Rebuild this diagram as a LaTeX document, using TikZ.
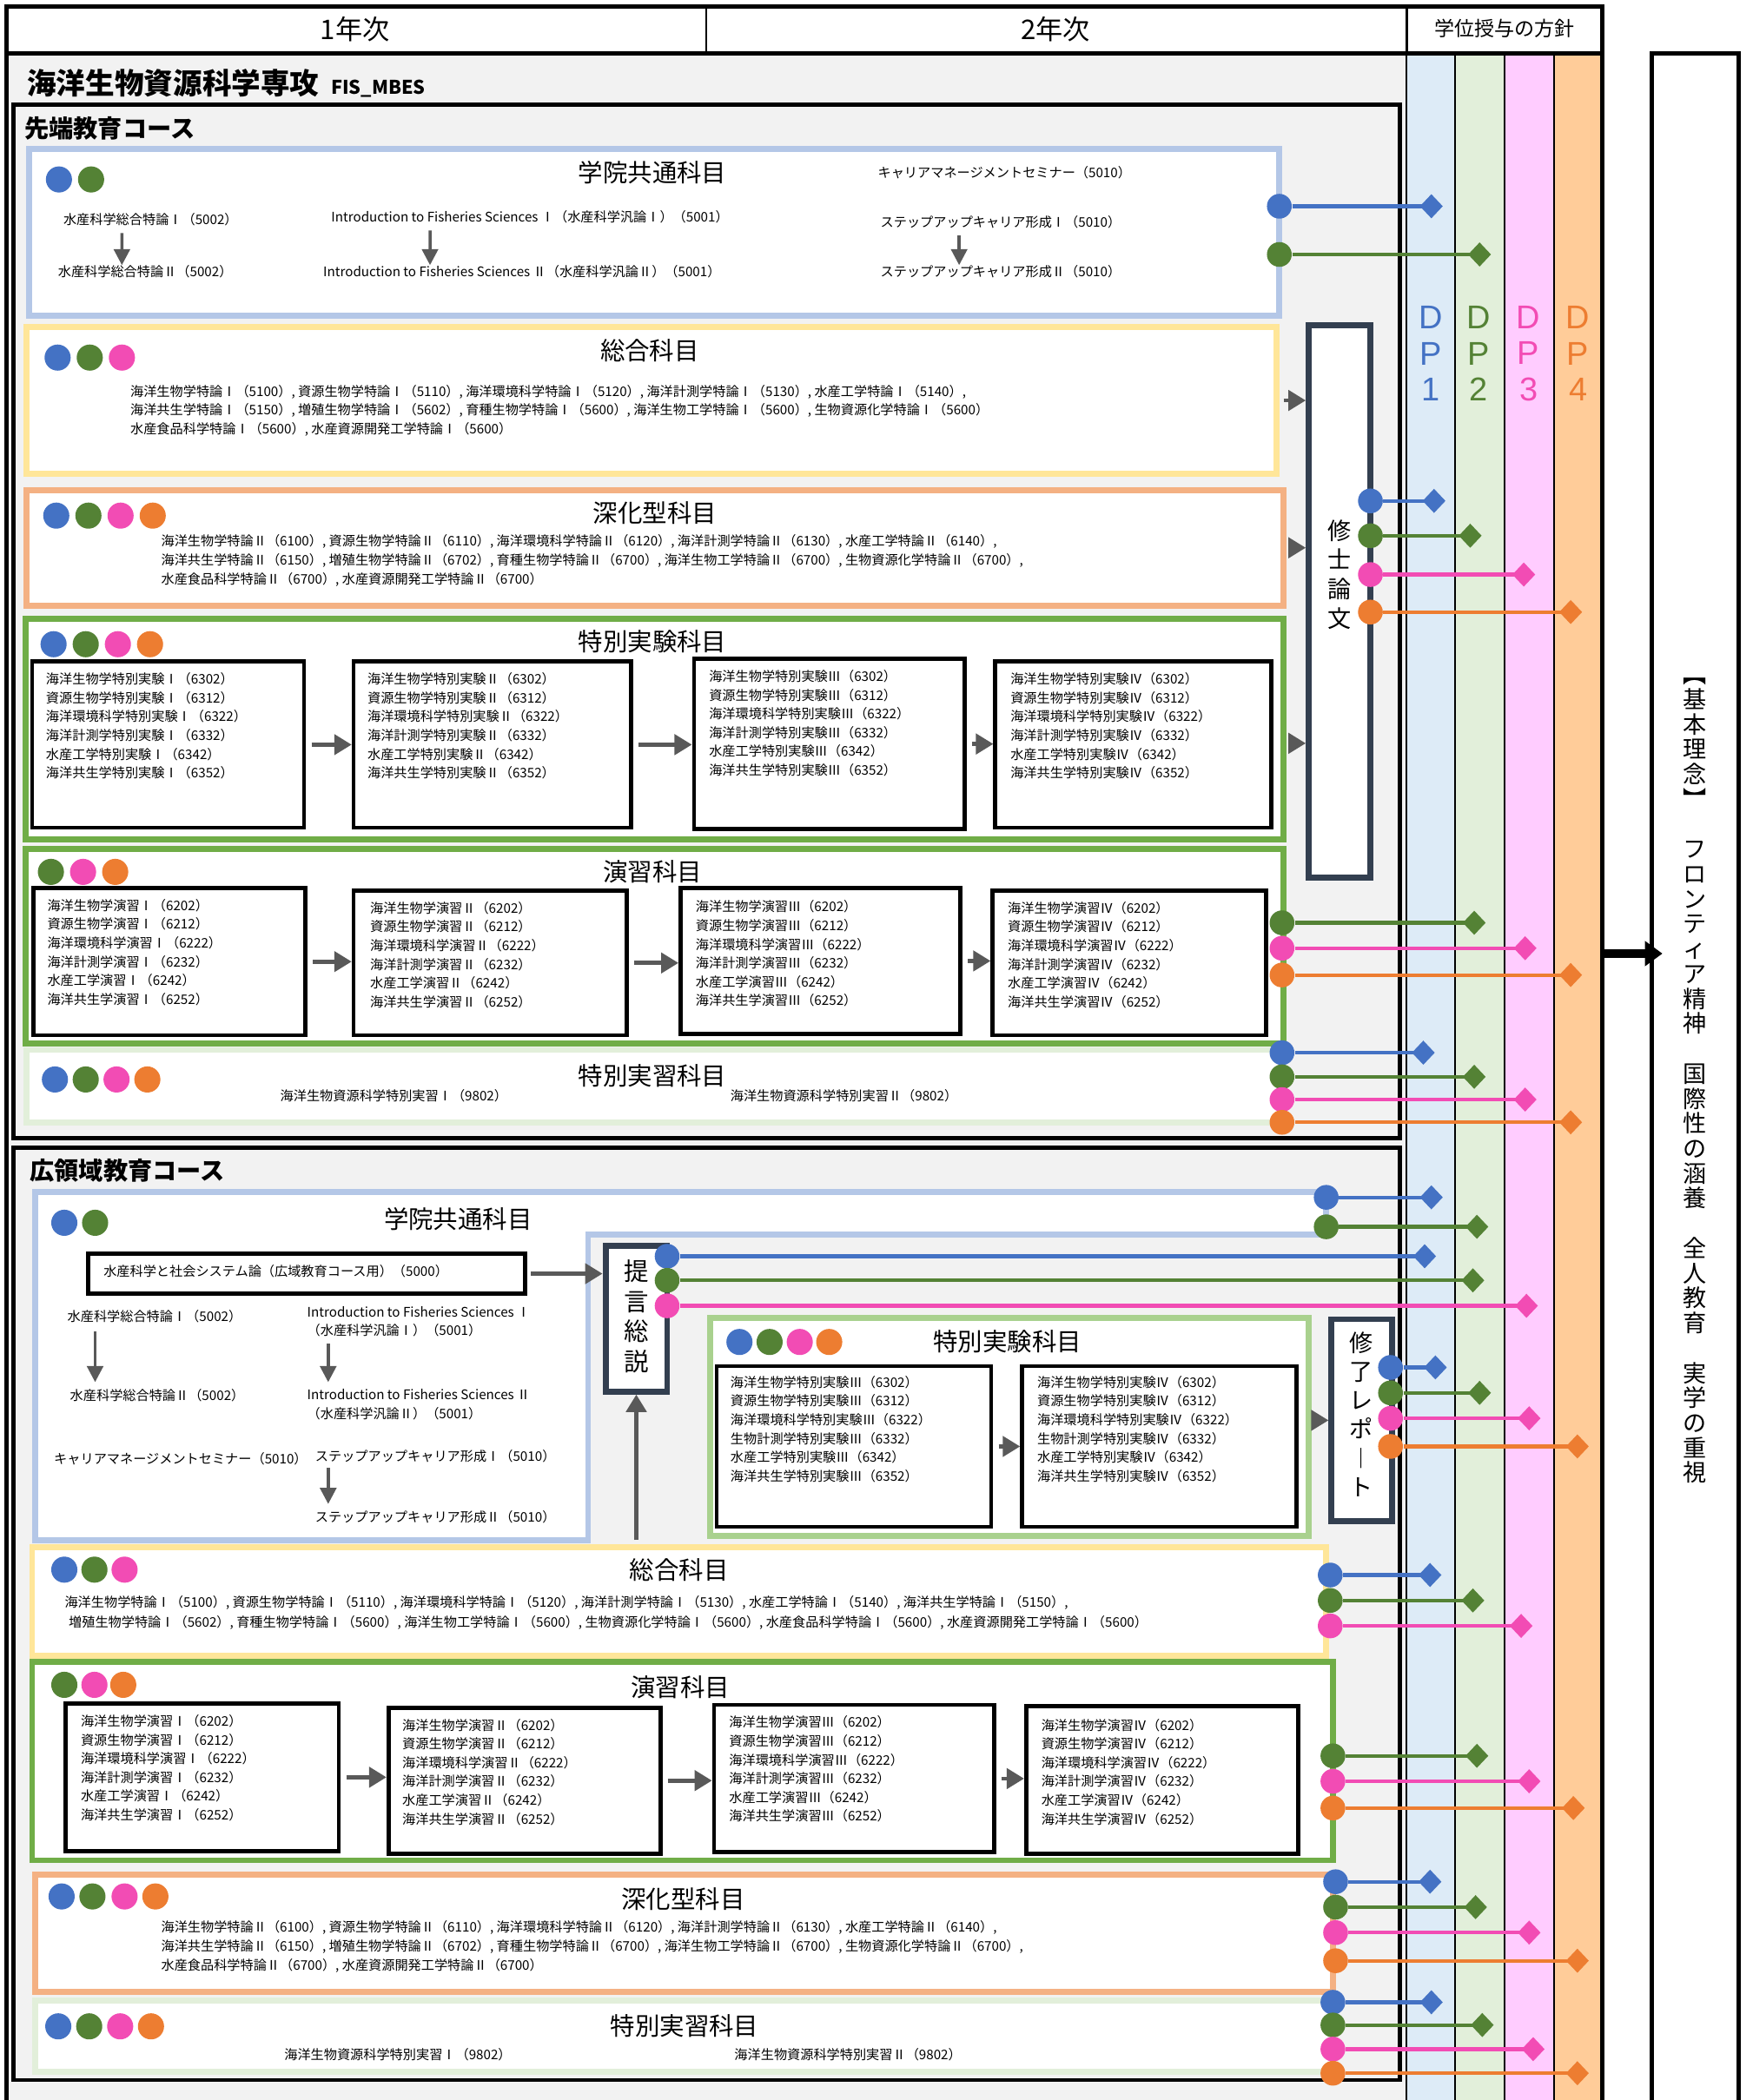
\documentclass[tikz,border=0pt]{standalone}
\usepackage{fontspec}
\setmainfont{Noto Sans CJK JP}
\newfontfamily\dpfont{Liberation Sans}
\usetikzlibrary{arrows.meta,fit,positioning}

\definecolor{bggray}{HTML}{F2F2F2}
\definecolor{kyotsu}{HTML}{B4C7E7}
\definecolor{sogo}{HTML}{FFE699}
\definecolor{shinka}{HTML}{F4B183}
\definecolor{jikken}{HTML}{70AD47}
\definecolor{jikkenlt}{HTML}{A9D18E}
\definecolor{jisshu}{HTML}{E2EFDA}
\definecolor{slate}{HTML}{333F50}
\definecolor{arrowgray}{HTML}{595959}
\definecolor{dpblue}{HTML}{4472C4}
\definecolor{dpgreen}{HTML}{548235}
\definecolor{dppink}{HTML}{F24CB4}
\definecolor{dporange}{HTML}{ED7D31}
\definecolor{dpcol1}{HTML}{DDEBF7}
\definecolor{dpcol2}{HTML}{E2EFDA}
\definecolor{dpcol3}{HTML}{FFCCFF}
\definecolor{dpcol4}{HTML}{FFCC99}

% course lists
\newcommand{\sogolist}{海洋生物学特論Ⅰ（5100）, 資源生物学特論Ⅰ（5110）, 海洋環境科学特論Ⅰ（5120）, 海洋計測学特論Ⅰ（5130）, 水産工学特論Ⅰ（5140）,\\海洋共生学特論Ⅰ（5150）, 増殖生物学特論Ⅰ（5602）, 育種生物学特論Ⅰ（5600）, 海洋生物工学特論Ⅰ（5600）, 生物資源化学特論Ⅰ（5600）\\水産食品科学特論Ⅰ（5600）, 水産資源開発工学特論Ⅰ（5600）}
\newcommand{\shinkalist}{海洋生物学特論Ⅱ（6100）, 資源生物学特論Ⅱ（6110）, 海洋環境科学特論Ⅱ（6120）, 海洋計測学特論Ⅱ（6130）, 水産工学特論Ⅱ（6140）,\\海洋共生学特論Ⅱ（6150）, 増殖生物学特論Ⅱ（6702）, 育種生物学特論Ⅱ（6700）, 海洋生物工学特論Ⅱ（6700）, 生物資源化学特論Ⅱ（6700）,\\水産食品科学特論Ⅱ（6700）, 水産資源開発工学特論Ⅱ（6700）}
\newcommand{\jikkenlist}[2]{海洋生物学特別実験#1（6302）\\資源生物学特別実験#1（6312）\\海洋環境科学特別実験#1（6322）\\#2特別実験#1（6332）\\水産工学特別実験#1（6342）\\海洋共生学特別実験#1（6352）}
\newcommand{\enshulist}[1]{海洋生物学演習#1（6202）\\資源生物学演習#1（6212）\\海洋環境科学演習#1（6222）\\海洋計測学演習#1（6232）\\水産工学演習#1（6242）\\海洋共生学演習#1（6252）}

\begin{document}
\begin{tikzpicture}[x=0.2mm, y=-0.2mm,
    course/.style={font=\fontsize{5.6}{7.97}\selectfont, inner sep=0pt},
    cattitle/.style={font=\fontsize{10.5}{12}\selectfont, inner sep=0pt},
    panel/.style={draw=black, line width=0.6mm, fill=bggray, inner sep=0pt},
    catbox/.style={draw=#1, line width=0.9mm, fill=white, inner sep=0pt},
    listbox/.style={draw=black, line width=0.6mm, fill=white, inner sep=0pt},
    thesisbox/.style={draw=slate, line width=0.9mm, fill=white, inner sep=0pt},
    badge/.style={circle, fill=#1, minimum size=3.9mm, inner sep=0pt},
    knob/.style={circle, fill=#1, minimum size=3.7mm, inner sep=0pt},
    dplink/.style={draw=#1, line width=0.55mm, -{Turned Square[length=3.4mm,width=3.6mm]}},
    flow/.style={draw=arrowgray, line width=0.6mm, -{Triangle[length=2.6mm,width=3mm]}, shorten <=0.6mm},
    downarr/.style={draw=arrowgray, line width=0.45mm, -{Triangle[length=2.4mm,width=2.4mm]}},
    tate/.style={align=center, inner sep=0pt}]

    \useasboundingbox (0,0) rectangle (1308,1568);

    % Background and DP columns
    \fill[white] (0,0) rectangle (1308,1568);
    \fill[bggray] (5,40) rectangle (1050,1568);
    \fill[dpcol1] (1050,40) rectangle (1086,1568);
    \fill[dpcol2] (1086,40) rectangle (1123,1568);
    \fill[dpcol3] (1123,40) rectangle (1160,1568);
    \fill[dpcol4] (1160,40) rectangle (1196,1568);
    \draw[line width=0.3mm] (1050,40) -- (1050,1568);
    \draw[line width=0.25mm] (1086,40) -- (1086,1568);
    \draw[line width=0.25mm] (1123,40) -- (1123,1568);
    \draw[line width=0.25mm] (1160,40) -- (1160,1568);
    \draw[line width=0.6mm] (1196,40) -- (1196,1568);
    \draw[line width=0.6mm] (5,40) -- (5,1568);

    % Header
    \node[fit={(5,5) (1196,40)}, draw, line width=0.6mm, fill=white, inner sep=0pt] (header) {};
    \draw[line width=0.25mm] (527,5) -- (527,40);
    \draw[line width=0.4mm] (1050,5) -- (1050,40);
    \node[font=\fontsize{11.5}{13}\selectfont] (year1) at (265,22) {1年次};
    \node[font=\fontsize{11.5}{13}\selectfont] (year2) at (788,22) {2年次};
    \node[font=\fontsize{8.5}{10}\selectfont] (dphead) at (1123,21) {学位授与の方針};

    % DP labels
    \node[tate, font=\dpfont\fontsize{14}{15.4}\selectfont, text=dpblue] (dp1) at (1068,264) {D\\P\\1};
    \node[tate, font=\dpfont\fontsize{14}{15.4}\selectfont, text=dpgreen] (dp2) at (1104,264) {D\\P\\2};
    \node[tate, font=\dpfont\fontsize{14}{15.4}\selectfont, text=dppink] (dp3) at (1141,264) {D\\P\\3};
    \node[tate, font=\dpfont\fontsize{14}{15.4}\selectfont, text=dporange] (dp4) at (1178,264) {D\\P\\4};

    % Basic philosophy
    \node[fit={(1233,40) (1298,1580)}, draw, line width=0.6mm, inner sep=0pt] (rinen) {};
    \node[tate, font=\fontsize{10}{10.6}\selectfont] (rinenT) at (1265,807) {︻\\基\\本\\理\\念\\︼\\　\\フ\\ロ\\ン\\テ\\ィ\\ア\\精\\神\\　\\国\\際\\性\\の\\涵\\養\\　\\全\\人\\教\\育\\　\\実\\学\\の\\重\\視};
    \coordinate (dpout) at (1196,712);
    \coordinate (rinenin) at (1241,712);
    \draw[line width=1.2mm, -{Triangle[length=2.6mm,width=3.6mm]}] (dpout) -- (rinenin);

    % Major
    \node[anchor=west, inner sep=0pt] (major) at (20,62) {\fontsize{12.4}{14}\selectfont\bfseries 海洋生物資源科学専攻\hspace{1.8mm}\fontsize{8}{10}\selectfont FIS\_MBES};

    % ===== Advanced course =====
    \node[panel, fit={(10,78) (1045,850)}] (sentan) {};
    \node[anchor=west, inner sep=0pt, font=\fontsize{10.4}{12}\selectfont\bfseries] (sentanT) at (18,96) {先端教育コース};

    % common subjects
    \node[catbox=kyotsu, fit={(22,111) (955,236)}] (sKyotsu) {};
    \node[cattitle] (sKyotsuT) at (487,129) {学院共通科目};
    \node[badge=dpblue] (sKyotsuD1) at (44,134) {};
    \node[badge=dpgreen] (sKyotsuD2) at (68,134) {};
    \node[course, anchor=west] (sK1a) at (47,164) {水産科学総合特論Ⅰ（5002）};
    \node[course, anchor=west] (sK1b) at (43,203) {水産科学総合特論Ⅱ（5002）};
    \node[course, anchor=west] (sK2a) at (247,162) {Introduction to Fisheries Sciences Ⅰ（水産科学汎論Ⅰ）（5001）};
    \node[course, anchor=west] (sK2b) at (241,203) {Introduction to Fisheries Sciences Ⅱ（水産科学汎論Ⅱ）（5001）};
    \node[course, anchor=west] (sK3) at (655,129) {キャリアマネージメントセミナー（5010）};
    \node[course, anchor=west] (sK4a) at (657,166) {ステップアップキャリア形成Ⅰ（5010）};
    \node[course, anchor=west] (sK4b) at (657,203) {ステップアップキャリア形成Ⅱ（5010）};
    \draw[downarr, shorten <=1mm] ([xshift=8.8mm]sK1a.south west) -- ([xshift=9.6mm]sK1b.north west);
    \draw[downarr, shorten <=1mm] ([xshift=14.8mm]sK2a.south west) -- ([xshift=16mm]sK2b.north west);
    \draw[downarr, shorten <=1mm] ([xshift=11.8mm]sK4a.south west) -- ([xshift=11.8mm]sK4b.north west);
    \node[knob=dpblue] (sKyotsuB) at (955,154) {};
    \coordinate (sKyotsuBE) at (1077,154);
    \draw[dplink=dpblue] (sKyotsuB) -- (sKyotsuBE);
    \node[knob=dpgreen] (sKyotsuG) at (955,190) {};
    \coordinate (sKyotsuGE) at (1113,190);
    \draw[dplink=dpgreen] (sKyotsuG) -- (sKyotsuGE);

    % master's thesis
    \node[thesisbox, fit={(977,243) (1023,655)}] (shushi) {};
    \node[tate, font=\fontsize{10}{12.5}\selectfont] (shushiT) at (1000,429) {修\\士\\論\\文};

    % general subjects
    \node[catbox=sogo, fit={(20,244) (953,354)}] (sSogo) {};
    \node[cattitle] (sSogoT) at (485,262) {総合科目};
    \node[badge=dpblue] (sSogoD1) at (43,267) {};
    \node[badge=dpgreen] (sSogoD2) at (67,267) {};
    \node[badge=dppink] (sSogoD3) at (91,267) {};
    \node[course, anchor=north west, align=left] (sSogoL) at (97,287) {\sogolist};
    \draw[flow] (sSogo.east) -- (sSogo.east -| shushi.west);

    % advanced subjects
    \node[catbox=shinka, fit={(20,366) (958,452)}] (sShinka) {};
    \node[cattitle] (sShinkaT) at (489,383) {深化型科目};
    \node[badge=dpblue] (sShinkaD1) at (42,385) {};
    \node[badge=dpgreen] (sShinkaD2) at (66,385) {};
    \node[badge=dppink] (sShinkaD3) at (90,385) {};
    \node[badge=dporange] (sShinkaD4) at (114,385) {};
    \node[course, anchor=north west, align=left] (sShinkaL) at (120,399) {\shinkalist};
    \draw[flow] (sShinka.east) -- (sShinka.east -| shushi.west);

    % special experiments
    \node[catbox=jikken, fit={(19,462) (958,627)}] (sJikken) {};
    \node[cattitle] (sJikkenT) at (487,479) {特別実験科目};
    \node[badge=dpblue] (sJikkenD1) at (40,481) {};
    \node[badge=dpgreen] (sJikkenD2) at (64,481) {};
    \node[badge=dppink] (sJikkenD3) at (88,481) {};
    \node[badge=dporange] (sJikkenD4) at (112,481) {};
    \node[listbox, fit={(24,494) (227,618)}] (sj1) {};
    \node[listbox, fit={(264,494) (471,618)}] (sj2) {};
    \node[listbox, fit={(518,492) (720,619)}] (sj3) {};
    \node[listbox, fit={(743,494) (949,618)}] (sj4) {};
    \node[course, anchor=north west, align=left] (sj1T) at (34,502) {\jikkenlist{Ⅰ}{海洋計測学}};
    \node[course, anchor=north west, align=left] (sj2T) at (274,502) {\jikkenlist{Ⅱ}{海洋計測学}};
    \node[course, anchor=north west, align=left] (sj3T) at (529,500) {\jikkenlist{Ⅲ}{海洋計測学}};
    \node[course, anchor=north west, align=left] (sj4T) at (754,502) {\jikkenlist{Ⅳ}{海洋計測学}};
    \draw[flow, shorten <=0.8mm] (sj1.east) -- (sj1.east -| sj2.west);
    \draw[flow, shorten <=0.8mm] (sj2.east) -- (sj2.east -| sj3.west);
    \draw[flow, shorten <=0.8mm] (sj3.east) -- (sj3.east -| sj4.west);
    \coordinate (sJikkenOut) at ([yshift=-2.1mm]sJikken.east);
    \draw[flow] (sJikkenOut) -- (sJikkenOut -| shushi.west);

    % exercises
    \node[catbox=jikken, fit={(19,634) (958,779)}] (sEnshu) {};
    \node[cattitle] (sEnshuT) at (487,651) {演習科目};
    \node[badge=dpgreen] (sEnshuD1) at (38,651) {};
    \node[badge=dppink] (sEnshuD2) at (62,651) {};
    \node[badge=dporange] (sEnshuD3) at (86,651) {};
    \node[listbox, fit={(25,663) (228,773)}] (se1) {};
    \node[listbox, fit={(264,665) (468,773)}] (se2) {};
    \node[listbox, fit={(508,663) (717,772)}] (se3) {};
    \node[listbox, fit={(741,665) (945,773)}] (se4) {};
    \node[course, anchor=north west, align=left] (se1T) at (35,671) {\enshulist{Ⅰ}};
    \node[course, anchor=north west, align=left] (se2T) at (276,673) {\enshulist{Ⅱ}};
    \node[course, anchor=north west, align=left] (se3T) at (519,672) {\enshulist{Ⅲ}};
    \node[course, anchor=north west, align=left] (se4T) at (752,673) {\enshulist{Ⅳ}};
    \draw[flow, shorten <=0.8mm] (se1.east) -- (se1.east -| se2.west);
    \draw[flow, shorten <=0.8mm] (se2.east) -- (se2.east -| se3.west);
    \draw[flow, shorten <=0.8mm] (se3.east) -- (se3.east -| se4.west);

    % special practice
    \node[catbox=jisshu, fit={(20,784) (958,838)}] (sJisshu) {};
    \node[cattitle] (sJisshuT) at (487,803) {特別実習科目};
    \node[badge=dpblue] (sJisshuD1) at (41,806) {};
    \node[badge=dpgreen] (sJisshuD2) at (64,806) {};
    \node[badge=dppink] (sJisshuD3) at (87,806) {};
    \node[badge=dporange] (sJisshuD4) at (110,806) {};
    \node[course] (sJisshu1) at (294,818) {海洋生物資源科学特別実習Ⅰ（9802）};
    \node[course] (sJisshu2) at (630,818) {海洋生物資源科学特別実習Ⅱ（9802）};

    % links to DP (advanced course)
    \node[knob=dpblue] (shushiB) at (1023,374) {};
    \coordinate (shushiBE) at (1079,374);
    \draw[dplink=dpblue] (shushiB) -- (shushiBE);
    \node[knob=dpgreen] (shushiG) at (1023,400) {};
    \coordinate (shushiGE) at (1106,400);
    \draw[dplink=dpgreen] (shushiG) -- (shushiGE);
    \node[knob=dppink] (shushiP) at (1023,429) {};
    \coordinate (shushiPE) at (1146,429);
    \draw[dplink=dppink] (shushiP) -- (shushiPE);
    \node[knob=dporange] (shushiO) at (1023,457) {};
    \coordinate (shushiOE) at (1181,457);
    \draw[dplink=dporange] (shushiO) -- (shushiOE);

    \node[knob=dpgreen] (sEnshuG) at (957,689) {};
    \coordinate (sEnshuGE) at (1109,689);
    \draw[dplink=dpgreen] (sEnshuG) -- (sEnshuGE);
    \node[knob=dppink] (sEnshuP) at (957,708) {};
    \coordinate (sEnshuPE) at (1147,708);
    \draw[dplink=dppink] (sEnshuP) -- (sEnshuPE);
    \node[knob=dporange] (sEnshuO) at (957,728) {};
    \coordinate (sEnshuOE) at (1181,728);
    \draw[dplink=dporange] (sEnshuO) -- (sEnshuOE);

    \node[knob=dpblue] (sJisshuB) at (957,786) {};
    \coordinate (sJisshuBE) at (1071,786);
    \draw[dplink=dpblue] (sJisshuB) -- (sJisshuBE);
    \node[knob=dpgreen] (sJisshuG) at (957,804) {};
    \coordinate (sJisshuGE) at (1109,804);
    \draw[dplink=dpgreen] (sJisshuG) -- (sJisshuGE);
    \node[knob=dppink] (sJisshuP) at (957,821) {};
    \coordinate (sJisshuPE) at (1147,821);
    \draw[dplink=dppink] (sJisshuP) -- (sJisshuPE);
    \node[knob=dporange] (sJisshuO) at (957,838) {};
    \coordinate (sJisshuOE) at (1181,838);
    \draw[dplink=dporange] (sJisshuO) -- (sJisshuOE);

    % ===== Broad-area course =====
    \node[panel, fit={(10,857) (1045,1553)}] (koiki) {};
    \node[anchor=west, inner sep=0pt, font=\fontsize{10.4}{12}\selectfont\bfseries] (koikiT) at (22,874) {広領域教育コース};

    % common subjects (L-shaped frame)
    \draw[draw=kyotsu, line width=0.9mm, fill=white] (26,890) -- (990,890) -- (990,922) -- (439,922) -- (439,1150) -- (26,1150) -- cycle;
    \node[cattitle] (kKyotsuT) at (342,910) {学院共通科目};
    \node[badge=dpblue] (kKyotsuD1) at (48,913) {};
    \node[badge=dpgreen] (kKyotsuD2) at (71,913) {};
    \node[listbox, fit={(66,936) (392,966)}] (shakai) {};
    \node[course, anchor=west] (shakaiT) at (77,949) {水産科学と社会システム論（広域教育コース用）（5000）};
    \node[course, anchor=west] (kK1a) at (50,983) {水産科学総合特論Ⅰ（5002）};
    \node[course, anchor=west] (kK1b) at (52,1042) {水産科学総合特論Ⅱ（5002）};
    \draw[downarr, shorten <=1.2mm, shorten >=1mm] ([xshift=4.2mm]kK1a.south west) -- ([xshift=3.8mm]kK1b.north west);
    \node[course, anchor=north west, align=left] (kK2a) at (229,975) {Introduction to Fisheries Sciences Ⅰ\\（水産科学汎論Ⅰ）（5001）};
    \node[course, anchor=north west, align=left] (kK2b) at (229,1037) {Introduction to Fisheries Sciences Ⅱ\\（水産科学汎論Ⅱ）（5001）};
    \draw[downarr, shorten <=1mm, shorten >=1mm] ([xshift=3.2mm]kK2a.south west) -- ([xshift=3.2mm]kK2b.north west);
    \node[course, anchor=west] (kK3) at (40,1089) {キャリアマネージメントセミナー（5010）};
    \node[course, anchor=west] (kK4a) at (235,1087) {ステップアップキャリア形成Ⅰ（5010）};
    \node[course, anchor=west] (kK4b) at (235,1133) {ステップアップキャリア形成Ⅱ（5010）};
    \draw[downarr, shorten <=0.8mm, shorten >=1mm] ([xshift=2mm]kK4a.south west) -- ([xshift=2mm]kK4b.north west);
    \node[knob=dpblue] (kKyotsuB) at (990,894) {};
    \coordinate (kKyotsuBE) at (1077,894);
    \draw[dplink=dpblue] (kKyotsuB) -- (kKyotsuBE);
    \node[knob=dpgreen] (kKyotsuG) at (990,916) {};
    \coordinate (kKyotsuGE) at (1111,916);
    \draw[dplink=dpgreen] (kKyotsuG) -- (kKyotsuGE);

    % proposal review
    \node[thesisbox, fit={(452,930) (498,1039)}] (teigen) {};
    \node[tate, font=\fontsize{10.5}{12.8}\selectfont] (teigenT) at (475,983) {提\\言\\総\\説};
    \draw[flow] (shakai.east) -- (shakai.east -| teigen.west);

    % special experiments
    \node[catbox=jikkenlt, fit={(530,984) (977,1147)}] (kJikken) {};
    \node[cattitle] (kJikkenT) at (752,1002) {特別実験科目};
    \node[badge=dpblue] (kJikkenD1) at (552,1002) {};
    \node[badge=dpgreen] (kJikkenD2) at (574.5,1002) {};
    \node[badge=dppink] (kJikkenD3) at (597,1002) {};
    \node[badge=dporange] (kJikkenD4) at (619,1002) {};
    \node[listbox, fit={(535,1020) (740,1140)}] (kj1) {};
    \node[listbox, fit={(763,1020) (968,1140)}] (kj2) {};
    \node[course, anchor=north west, align=left] (kj1T) at (545,1027) {\jikkenlist{Ⅲ}{生物計測学}};
    \node[course, anchor=north west, align=left] (kj2T) at (774,1027) {\jikkenlist{Ⅳ}{生物計測学}};
    \draw[flow, shorten <=0.8mm] (kj1.east) -- (kj1.east -| kj2.west);

    % completion report
    \node[thesisbox, fit={(994,985) (1039,1136)}] (kReport) {};
    \node[tate, font=\fontsize{10}{12.2}\selectfont] (kReportT) at (1016,1056) {修\\了\\レ\\ポ\\︱\\ト};
    \draw[flow] (kJikken.east |- kReport.west) -- (kReport.west);

    % general subjects
    \node[catbox=sogo, fit={(24,1155) (990,1236)}] (kSogo) {};
    \node[cattitle] (kSogoT) at (507,1172) {総合科目};
    \node[badge=dpblue] (kSogoD1) at (48,1172) {};
    \node[badge=dpgreen] (kSogoD2) at (70.5,1172) {};
    \node[badge=dppink] (kSogoD3) at (93,1172) {};
    \node[course, anchor=west] (kSogoL1) at (48,1197) {海洋生物学特論Ⅰ（5100）, 資源生物学特論Ⅰ（5110）, 海洋環境科学特論Ⅰ（5120）, 海洋計測学特論Ⅰ（5130）, 水産工学特論Ⅰ（5140）, 海洋共生学特論Ⅰ（5150）,};
    \node[course, anchor=west] (kSogoL2) at (51,1211.5) {増殖生物学特論Ⅰ（5602）, 育種生物学特論Ⅰ（5600）, 海洋生物工学特論Ⅰ（5600）, 生物資源化学特論Ⅰ（5600）, 水産食品科学特論Ⅰ（5600）, 水産資源開発工学特論Ⅰ（5600）};
    \draw[flow] (kSogo.north -| teigen.south) -- (teigen.south);

    % exercises
    \node[catbox=jikken, fit={(24,1241) (995,1389)}] (kEnshu) {};
    \node[cattitle] (kEnshuT) at (508,1259.5) {演習科目};
    \node[badge=dpgreen] (kEnshuD1) at (48,1258) {};
    \node[badge=dppink] (kEnshuD2) at (70.5,1258) {};
    \node[badge=dporange] (kEnshuD3) at (92,1258) {};
    \node[listbox, fit={(49,1272) (253,1382)}] (ke1) {};
    \node[listbox, fit={(290,1275) (493,1384)}] (ke2) {};
    \node[listbox, fit={(533,1273) (742,1383)}] (ke3) {};
    \node[listbox, fit={(766,1274) (969,1384)}] (ke4) {};
    \node[course, anchor=north west, align=left] (ke1T) at (60,1280) {\enshulist{Ⅰ}};
    \node[course, anchor=north west, align=left] (ke2T) at (300,1283) {\enshulist{Ⅱ}};
    \node[course, anchor=north west, align=left] (ke3T) at (544,1281) {\enshulist{Ⅲ}};
    \node[course, anchor=north west, align=left] (ke4T) at (777,1283) {\enshulist{Ⅳ}};
    \draw[flow, shorten <=0.8mm] (ke1.east) -- (ke1.east -| ke2.west);
    \draw[flow, shorten <=0.8mm] (ke2.east) -- (ke2.east -| ke3.west);
    \draw[flow, shorten <=0.8mm] (ke3.east) -- (ke3.east -| ke4.west);

    % advanced subjects
    \node[catbox=shinka, fit={(26,1400) (995,1487)}] (kShinka) {};
    \node[cattitle] (kShinkaT) at (510,1418) {深化型科目};
    \node[badge=dpblue] (kShinkaD1) at (46,1416) {};
    \node[badge=dpgreen] (kShinkaD2) at (69,1416) {};
    \node[badge=dppink] (kShinkaD3) at (93,1416) {};
    \node[badge=dporange] (kShinkaD4) at (116,1416) {};
    \node[course, anchor=north west, align=left] (kShinkaL) at (120,1434) {\shinkalist};

    % special practice
    \node[catbox=jisshu, fit={(26,1494) (995,1547)}] (kJisshu) {};
    \node[cattitle] (kJisshuT) at (511,1513) {特別実習科目};
    \node[badge=dpblue] (kJisshuD1) at (43.5,1513) {};
    \node[badge=dpgreen] (kJisshuD2) at (66.6,1513) {};
    \node[badge=dppink] (kJisshuD3) at (89.7,1513) {};
    \node[badge=dporange] (kJisshuD4) at (112.7,1513) {};
    \node[course] (kJisshu1) at (297,1534) {海洋生物資源科学特別実習Ⅰ（9802）};
    \node[course] (kJisshu2) at (633,1534) {海洋生物資源科学特別実習Ⅱ（9802）};

    % links to DP (broad-area course)
    \node[knob=dpblue] (teigenB) at (498,938) {};
    \coordinate (teigenBE) at (1072,938);
    \draw[dplink=dpblue] (teigenB) -- (teigenBE);
    \node[knob=dpgreen] (teigenG) at (498,956) {};
    \coordinate (teigenGE) at (1108,956);
    \draw[dplink=dpgreen] (teigenG) -- (teigenGE);
    \node[knob=dppink] (teigenP) at (498,975) {};
    \coordinate (teigenPE) at (1148,975);
    \draw[dplink=dppink] (teigenP) -- (teigenPE);

    \node[knob=dpblue] (kReportB) at (1038,1021) {};
    \coordinate (kReportBE) at (1080,1021);
    \draw[dplink=dpblue] (kReportB) -- (kReportBE);
    \node[knob=dpgreen] (kReportG) at (1038,1040) {};
    \coordinate (kReportGE) at (1113,1040);
    \draw[dplink=dpgreen] (kReportG) -- (kReportGE);
    \node[knob=dppink] (kReportP) at (1038,1059) {};
    \coordinate (kReportPE) at (1150,1059);
    \draw[dplink=dppink] (kReportP) -- (kReportPE);
    \node[knob=dporange] (kReportO) at (1038,1080) {};
    \coordinate (kReportOE) at (1186,1080);
    \draw[dplink=dporange] (kReportO) -- (kReportOE);

    \node[knob=dpblue] (kSogoB) at (993,1176) {};
    \coordinate (kSogoBE) at (1076,1176);
    \draw[dplink=dpblue] (kSogoB) -- (kSogoBE);
    \node[knob=dpgreen] (kSogoG) at (993,1195) {};
    \coordinate (kSogoGE) at (1108,1195);
    \draw[dplink=dpgreen] (kSogoG) -- (kSogoGE);
    \node[knob=dppink] (kSogoP) at (993,1214) {};
    \coordinate (kSogoPE) at (1144,1214);
    \draw[dplink=dppink] (kSogoP) -- (kSogoPE);

    \node[knob=dpgreen] (kEnshuG) at (995,1311) {};
    \coordinate (kEnshuGE) at (1111,1311);
    \draw[dplink=dpgreen] (kEnshuG) -- (kEnshuGE);
    \node[knob=dppink] (kEnshuP) at (995,1330) {};
    \coordinate (kEnshuPE) at (1150,1330);
    \draw[dplink=dppink] (kEnshuP) -- (kEnshuPE);
    \node[knob=dporange] (kEnshuO) at (995,1350) {};
    \coordinate (kEnshuOE) at (1183,1350);
    \draw[dplink=dporange] (kEnshuO) -- (kEnshuOE);

    \node[knob=dpblue] (kShinkaB) at (997,1405) {};
    \coordinate (kShinkaBE) at (1076,1405);
    \draw[dplink=dpblue] (kShinkaB) -- (kShinkaBE);
    \node[knob=dpgreen] (kShinkaG) at (997,1424) {};
    \coordinate (kShinkaGE) at (1110,1424);
    \draw[dplink=dpgreen] (kShinkaG) -- (kShinkaGE);
    \node[knob=dppink] (kShinkaP) at (997,1443) {};
    \coordinate (kShinkaPE) at (1150,1443);
    \draw[dplink=dppink] (kShinkaP) -- (kShinkaPE);
    \node[knob=dporange] (kShinkaO) at (997,1464) {};
    \coordinate (kShinkaOE) at (1186,1464);
    \draw[dplink=dporange] (kShinkaO) -- (kShinkaOE);

    \node[knob=dpblue] (kJisshuB) at (995,1495) {};
    \coordinate (kJisshuBE) at (1077,1495);
    \draw[dplink=dpblue] (kJisshuB) -- (kJisshuBE);
    \node[knob=dpgreen] (kJisshuG) at (995,1512) {};
    \coordinate (kJisshuGE) at (1115,1512);
    \draw[dplink=dpgreen] (kJisshuG) -- (kJisshuGE);
    \node[knob=dppink] (kJisshuP) at (995,1530) {};
    \coordinate (kJisshuPE) at (1153,1530);
    \draw[dplink=dppink] (kJisshuP) -- (kJisshuPE);
    \node[knob=dporange] (kJisshuO) at (995,1548) {};
    \coordinate (kJisshuOE) at (1186,1548);
    \draw[dplink=dporange] (kJisshuO) -- (kJisshuOE);
\end{tikzpicture}
\end{document}
